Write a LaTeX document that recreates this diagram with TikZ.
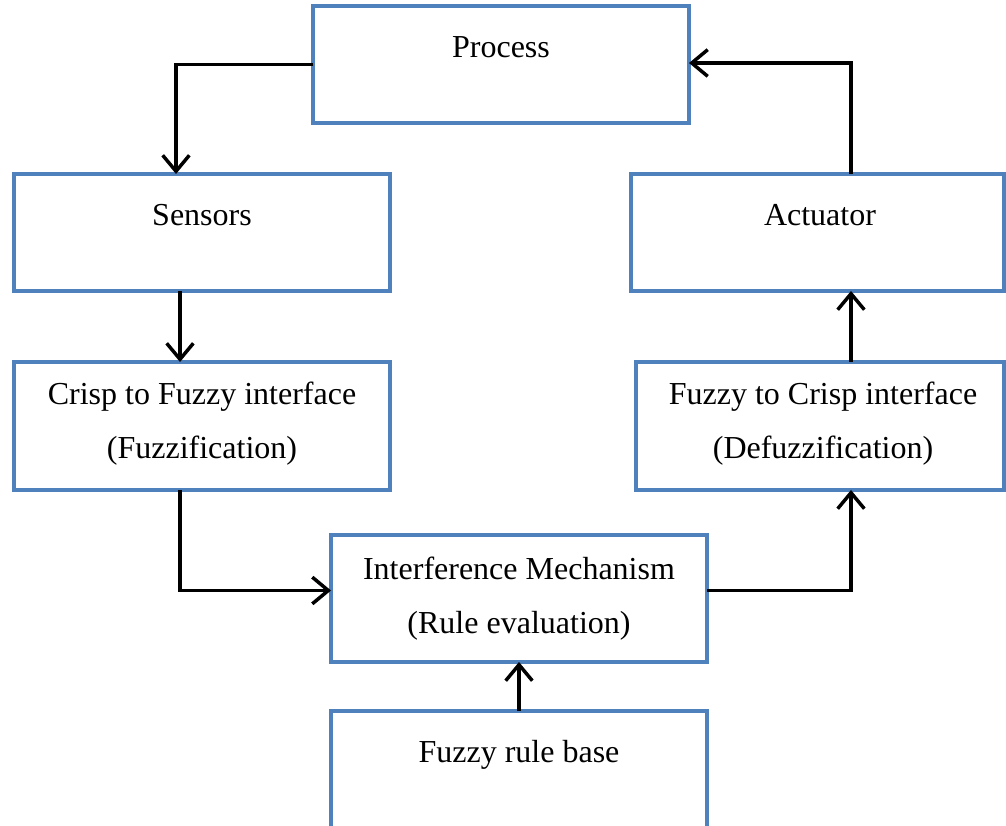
\documentclass[tikz,border=0pt]{standalone}
\usepackage{fontspec}
\setmainfont{Liberation Serif}
\usetikzlibrary{arrows.meta}

\definecolor{cbox}{HTML}{4F81BD}
\newcommand{\px}{0.375pt}

\begin{document}
\begin{tikzpicture}[
    x=\px, y=-\px,
    box/.style={draw=cbox, line width=1.5pt, inner sep=0pt, outer sep=0pt,
        minimum width=376*\px, minimum height=#1*\px},
    box/.default=117,
    txt/.style={font=\fontsize{12}{20.25}\selectfont, align=center, anchor=base, inner sep=0pt},
    link/.style={line width=1.3pt, -{Straight Barb[length=6pt, width=10pt]}},
]

% Page size (pixels of the original)
\useasboundingbox (0,0) rectangle (1006,826);

% Boxes
\node[box] (proc) at (501,64.5) {};
\node[box] (sens) at (202,232.5) {};
\node[box, minimum width=373*\px] (act) at (817.5,232.5) {};
\node[box=128] (crisp) at (202,426) {};
\node[box=128, minimum width=368*\px] (fuzc) at (820,426) {};
\node[box=127] (infer) at (519,598.5) {};
\node[box] (rule) at (519,769.5) {};

% Box texts (base = last line)
\node[txt] (proctxt) at (501,58) {Process};
\node[txt] (senstxt) at (202,226) {Sensors};
\node[txt] (acttxt) at (820,226) {Actuator};
\node[txt] (crisptxt) at (202,459) {Crisp to Fuzzy interface\\(Fuzzification)};
\node[txt] (fuzctxt) at (823,459) {Fuzzy to Crisp interface\\(Defuzzification)};
\node[txt] (infertxt) at (519,633) {Interference Mechanism\\(Rule evaluation)};
\node[txt] (ruletxt) at (519,762) {Fuzzy rule base};

% Connectors
\draw[link] (proc.west) -| ([xshift=-26*\px]sens.north);
\draw[link] ([xshift=-22*\px]sens.south) -- ([xshift=-22*\px]crisp.north);
\draw[link] ([xshift=-22*\px]crisp.south) |- ([yshift=8*\px]infer.west);
\draw[link] ([yshift=8*\px]infer.east) -| ([xshift=31*\px]fuzc.south);
\draw[link] ([xshift=31*\px]fuzc.north) -- ([xshift=33.5*\px]act.south);
\draw[link] ([xshift=33.5*\px]act.north) |- ([yshift=1.5*\px]proc.east);
\draw[link] (rule.north) -- (infer.south);

\end{tikzpicture}
\end{document}
